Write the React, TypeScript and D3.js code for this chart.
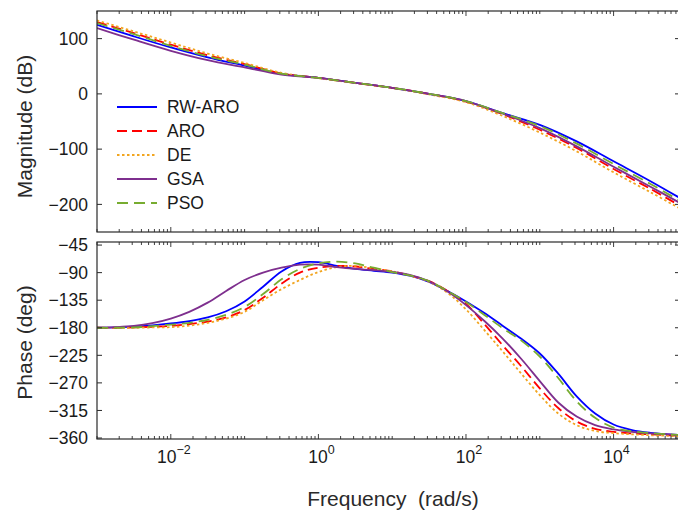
import React from "react";
import * as d3 from "d3";

// ---- data ----
const seriesNames = ["RW-ARO", "ARO", "DE", "GSA", "PSO"];
const seriesColors = ["#0000FF", "#FF0000", "#F2A51F", "#7E2F8E", "#77AC30"];
const seriesDash = ["", "10,5", "2.5,2.5", "", "11,6"];

// magnitude: log10 of frequency (half-decade)
const magLogFreq = [-3, -2.5, -2, -1.5, -1, -0.5, 0, 0.5, 1, 1.5, 2, 2.5, 3, 3.5, 4, 4.5, 4.88];
const magRWARO = [125, 104, 84, 66, 51, 36, 29, 20, 11, 0, -13, -35, -56, -86, -122, -158, -187];
const magARO = [130, 110, 89, 70, 54, 37, 29, 20, 11, 0, -14, -37, -65, -98, -136, -172, -201];
const magDE = [133, 113, 93, 73, 56, 38, 28.5, 19.5, 10.5, -1, -15, -40, -70, -104, -142, -178, -206];
const magGSA = [119, 98, 78, 61, 48, 35, 29, 20, 11, 0, -13, -36, -62, -95, -132, -168, -196];
const magPSO = [128, 108, 87, 68, 53, 36.5, 29, 20, 11, 0, -13, -35, -58, -90, -127, -163, -192];

// phase: log10 of frequency (quarter-decade)
const phaseLogFreq = [-3, -2.75, -2.5, -2.25, -2, -1.75, -1.5, -1.25, -1, -0.75, -0.5, -0.25, 0, 0.25, 0.5, 0.75, 1, 1.25, 1.5, 1.75, 2, 2.25, 2.5, 2.75, 3, 3.25, 3.5, 3.75, 4, 4.25, 4.5, 4.75, 4.88];
const phRWARO = [-180, -179.5, -178, -176, -173, -169, -163, -153, -137, -113, -88, -74, -73, -79, -84, -87, -90, -95.5, -105, -120, -137, -156, -177, -198, -222, -255, -292, -320, -338, -347, -351.5, -354, -355];
const phARO = [-180, -180, -179.5, -178.5, -177, -174, -170, -163, -151, -131, -108, -90, -82, -79, -80, -84, -88, -95, -104, -120, -141, -174, -209, -243, -279, -311, -333, -345, -350, -352.5, -354, -355.5, -356];
const phDE = [-180, -180, -180, -179.5, -179, -176.5, -172, -165, -154, -135, -117, -102, -89, -81, -79, -83, -88, -95, -105, -123, -150, -184, -219, -255, -290, -320, -339, -348.5, -352, -354, -355.5, -356.5, -357];
const phGSA = [-180, -179, -177, -172.5, -165, -154, -139, -120, -102, -90, -82, -77, -77, -81, -84, -86, -89, -94, -104, -121, -143, -169, -198, -231, -267, -302, -325, -339, -346, -350, -352.5, -354, -355];
const phPSO = [-180, -180, -179.5, -177.5, -175, -172, -167, -159, -146, -125, -101, -84, -75, -72, -75, -82, -89, -95, -104, -120, -138, -159, -181, -201, -227, -262, -300, -327, -343, -349, -352, -354, -355];

const magSeries = [magRWARO, magARO, magDE, magGSA, magPSO];
const phaseSeries = [phRWARO, phARO, phDE, phGSA, phPSO];

const magTicks = [100, 0, -100, -200];
const phaseTicks = [-45, -90, -135, -180, -225, -270, -315, -360];
const xLabelExps = [-2, 0, 2, 4];

// ---- layout ----
const W = 678;
const H = 511;
const L = 97;
const R = 680;
const topY0 = 11, topY1 = 232;
const botY0 = 242, botY1 = 439;
const FONT = "'Liberation Sans', Arial, Helvetica, sans-serif";
const AXIS = "#2a2a2a";
const TXT = "#1a1a1a";

const x = d3.scaleLog().domain([1e-3, Math.pow(10, 4.9)]).range([L, R]);
const yMag = d3.scaleLinear().domain([-250, 150]).range([topY1, topY0]);
const yPh = d3.scaleLinear().domain([-361.6, -40]).range([botY1, botY0]);

const fmt = (v: number) => (v < 0 ? "\u2212" + Math.abs(v) : String(v));

function minorTicks(): { v: number; major: boolean }[] {
  const out: { v: number; major: boolean }[] = [];
  for (let e = -3; e <= 4; e++) {
    for (let m = 1; m <= 9; m++) {
      const v = m * Math.pow(10, e);
      if (v > Math.pow(10, 4.9)) continue;
      out.push({ v, major: m === 1 && e % 2 === 0 });
    }
  }
  return out;
}

function Panel({ y0, y1, yScale, ticks, series, logF, clipId }: any) {
  const xt = minorTicks();
  const line = (vals: number[]) =>
    d3
      .line<number>()
      .x((_, i) => x(Math.pow(10, logF[i])))
      .y((d) => yScale(d))
      .curve(d3.curveCatmullRom.alpha(0.5))(vals) as string;
  return (
    <g>
      <defs>
        <clipPath id={clipId}>
          <rect x={L} y={y0} width={R - L} height={y1 - y0} />
        </clipPath>
      </defs>
      <g clipPath={`url(#${clipId})`}>
        {series.map((vals: number[], i: number) => (
          <path
            key={i}
            d={line(vals)}
            fill="none"
            stroke={seriesColors[i]}
            strokeWidth={1.8}
            strokeDasharray={seriesDash[i] || undefined}
          />
        ))}
      </g>
      {/* frame */}
      <rect x={L} y={y0} width={R - L} height={y1 - y0} fill="none" stroke={AXIS} strokeWidth={1.2} />
      {/* x ticks top & bottom */}
      {xt.map((t, i) => {
        const xx = x(t.v);
        const len = t.major ? 5 : 3;
        return (
          <g key={i} stroke={AXIS} strokeWidth={0.9}>
            <line x1={xx} x2={xx} y1={y0} y2={y0 + len} />
            <line x1={xx} x2={xx} y1={y1} y2={y1 - len} />
          </g>
        );
      })}
      {/* y ticks */}
      {ticks.map((t: number) => (
        <g key={t}>
          <line x1={L} x2={L + 5} y1={yScale(t)} y2={yScale(t)} stroke={AXIS} strokeWidth={1} />
          <line x1={R} x2={R - 5} y1={yScale(t)} y2={yScale(t)} stroke={AXIS} strokeWidth={1} />
          <text
            x={L - 9}
            y={yScale(t)}
            dy="0.36em"
            textAnchor="end"
            fontSize={17.5}
            fontFamily={FONT}
            fill={TXT}
          >
            {fmt(t)}
          </text>
        </g>
      ))}
    </g>
  );
}

export default function App() {
  return (
    <svg
      width={W}
      height={H}
      viewBox={`0 0 ${W} ${H}`}
      style={{ position: "absolute", left: 0, top: 0, background: "#fff" }}
    >
      <rect width={W} height={H} fill="#fff" />
      <Panel y0={topY0} y1={topY1} yScale={yMag} ticks={magTicks} series={magSeries} logF={magLogFreq} clipId="clipTop" />
      <Panel y0={botY0} y1={botY1} yScale={yPh} ticks={phaseTicks} series={phaseSeries} logF={phaseLogFreq} clipId="clipBot" />

      {/* legend */}
      {seriesNames.map((n, i) => {
        const yy = 107 + i * 24;
        return (
          <g key={n}>
            <line
              x1={117}
              x2={157}
              y1={yy}
              y2={yy}
              stroke={seriesColors[i]}
              strokeWidth={1.8}
              strokeDasharray={seriesDash[i] || undefined}
            />
            <text x={167} y={yy} dy="0.36em" fontSize={17.5} fontFamily={FONT} fill={TXT}>
              {n}
            </text>
          </g>
        );
      })}

      {/* x tick labels */}
      {xLabelExps.map((e) => (
        <text
          key={e}
          x={x(Math.pow(10, e)) + 3}
          y={463}
          textAnchor="middle"
          fontSize={17.5}
          fontFamily={FONT}
          fill={TXT}
        >
          10
          <tspan dy={-9} fontSize={12.5}>
            {fmt(e)}
          </tspan>
        </text>
      ))}

      {/* axis labels */}
      <text
        transform={`translate(32,${(topY0 + topY1) / 2 + 5}) rotate(-90)`}
        textAnchor="middle"
        fontSize={21}
        fontFamily={FONT}
        fill="#2a2a2a"
      >
        Magnitude (dB)
      </text>
      <text
        transform={`translate(32,${(botY0 + botY1) / 2 + 2}) rotate(-90)`}
        textAnchor="middle"
        fontSize={21}
        fontFamily={FONT}
        fill="#2a2a2a"
      >
        Phase (deg)
      </text>
      <text
        x={393}
        y={506}
        textAnchor="middle"
        fontSize={21}
        fontFamily={FONT}
        fill="#2a2a2a"
        style={{ whiteSpace: "pre" }}
      >
        {"Frequency  (rad/s)"}
      </text>
    </svg>
  );
}
